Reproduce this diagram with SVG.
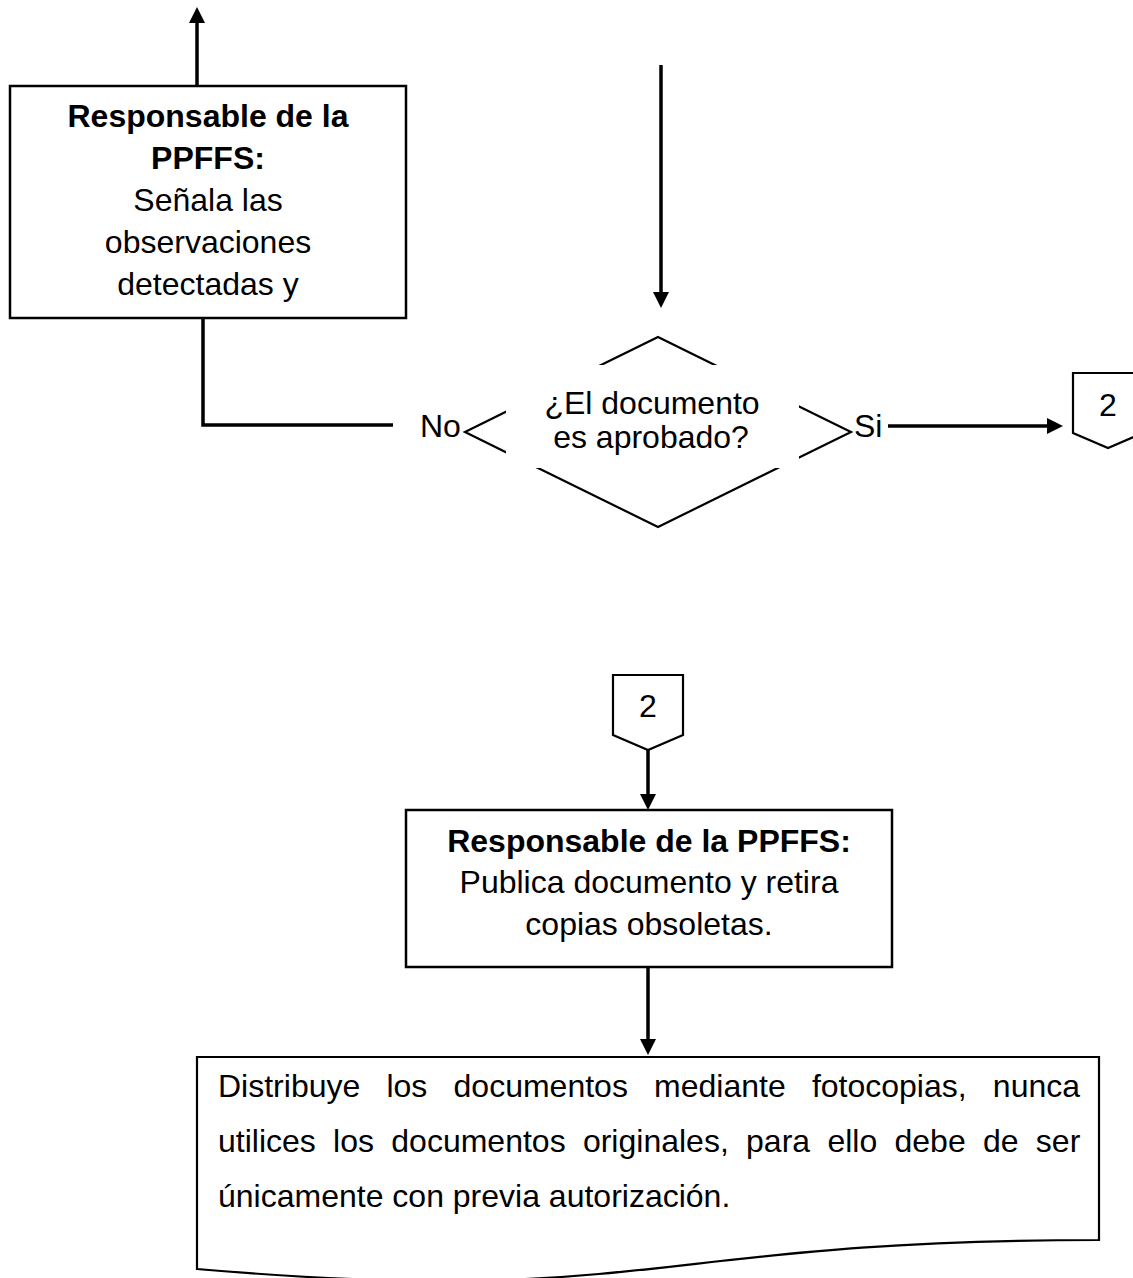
<svg xmlns="http://www.w3.org/2000/svg" width="1133" height="1278" viewBox="0 0 1133 1278">
<defs>
<style>
.t{font-family:"Liberation Sans",Arial,sans-serif;font-size:32px;fill:#000}
.b{font-weight:bold}
.c{text-anchor:middle}
.shape{fill:#fff;stroke:#000;stroke-width:2.5;stroke-linejoin:miter}
.thin{fill:#fff;stroke:#000;stroke-width:2.2}
.conn{fill:none;stroke:#000;stroke-width:3.5}
</style>
<marker id="ah" markerUnits="userSpaceOnUse" markerWidth="16" markerHeight="16" viewBox="0 0 16 16" refX="6" refY="8" orient="auto"><path d="M0,0 L16,8 L0,16 z" fill="#000"/></marker>
</defs>
<rect width="1133" height="1278" fill="#fff"/>

<g id="connectors">
<line class="conn" x1="197" y1="86" x2="197" y2="17" marker-end="url(#ah)"/>
<polyline class="conn" points="203,318 203,425 393,425"/>
<line class="conn" x1="661" y1="65" x2="661" y2="298" marker-end="url(#ah)"/>
<line class="conn" x1="888" y1="426" x2="1053" y2="426" marker-end="url(#ah)"/>
<line class="conn" x1="648" y1="750" x2="648" y2="800" marker-end="url(#ah)"/>
<line class="conn" x1="648" y1="967" x2="648" y2="1045" marker-end="url(#ah)"/>
<text class="t" x="420" y="437">No</text>
<text class="t" x="854" y="437">Si</text>
</g>

<g id="box-observaciones">
<rect class="shape" x="10" y="86" width="396" height="232"/>
<text class="t b c" x="208" y="127">Responsable de la</text>
<text class="t b c" x="208" y="169">PPFFS:</text>
<text class="t c" x="208" y="211">Señala las</text>
<text class="t c" x="208" y="253">observaciones</text>
<text class="t c" x="208" y="295">detectadas y</text>
</g>

<g id="decision">
<polygon class="thin" points="658,337 851,432 658,527 465,432"/>
<rect x="506" y="365" width="293" height="103" fill="#fff"/>
<text class="t c" x="652" y="414">¿El documento</text>
<text class="t c" x="651" y="448">es aprobado?</text>
</g>

<g id="offpage-right">
<polygon class="thin" points="1073,373 1143,373 1143,433 1108,448 1073,433"/>
<text class="t c" x="1108" y="416">2</text>
</g>

<g id="offpage-bottom">
<polygon class="thin" points="613,675 683,675 683,735 648,750 613,735"/>
<text class="t c" x="648" y="717">2</text>
</g>

<g id="box-publica">
<rect class="shape" x="406" y="810" width="486" height="157"/>
<text class="t b c" x="649" y="852">Responsable de la PPFFS:</text>
<text class="t c" x="649" y="893">Publica documento y retira</text>
<text class="t c" x="649" y="935">copias obsoletas.</text>
</g>

<g id="doc-distribuye">
<path class="thin" d="M197,1057 H1099 V1240 C648,1240 648,1308 197,1269 Z"/>
<text class="t" x="218" y="1097" word-spacing="17.3">Distribuye los documentos mediante fotocopias, nunca</text>
<text class="t" x="218" y="1152" word-spacing="8.4">utilices los documentos originales, para ello debe de ser</text>
<text class="t" x="218" y="1207">únicamente con previa autorización.</text>
</g>
</svg>
